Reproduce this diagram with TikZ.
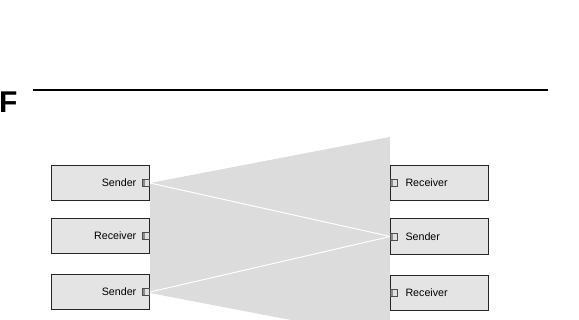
\documentclass[tikz,border=0pt]{standalone}
\usepackage{fontspec}
\setmainfont{Liberation Sans}
\definecolor{fanfill}{HTML}{DCDCDC}
\definecolor{boxfill}{HTML}{E4E4E4}
\begin{document}
\begin{tikzpicture}[x=1pt,y=-1pt,
  unitbox/.style={draw=black!85, line width=0.9pt, fill=boxfill,
    minimum width=98pt, minimum height=35.5pt, inner sep=0pt},
  portbox/.style={draw=black!70, line width=0.7pt, fill=black!12,
    minimum width=7pt, minimum height=7pt, inner sep=0pt,
    path picture={\fill[black!45] (path picture bounding box.south west)
      rectangle ([xshift=2pt]path picture bounding box.north west);}},
  lbl/.style={inner sep=0pt, font=\fontsize{10.7}{12}\selectfont},
  link/.style={draw=white, line width=1pt}]
\clip (0,0) rectangle (579,320);

% heading letter and rule
\node[inner sep=0pt, anchor=base west, font=\fontsize{30}{30}\selectfont\bfseries] (head) at (-1,113) {F};
\coordinate (ruleA) at (33,90);
\coordinate (ruleB) at (548,90);
\draw[line width=1.6pt] (ruleA) -- (ruleB);

% fan-shaped broadcast region behind the boxes
\coordinate (fanA) at (150,183);
\coordinate (fanB) at (390,137);
\coordinate (fanC) at (390,339);
\coordinate (fanD) at (150,293);
\fill[fanfill] (fanA) -- (fanB) -- (fanC) -- (fanD) -- cycle;

% unit boxes
\node[unitbox] (l1) at (100.5,183) {};
\node[unitbox] (l2) at (100.5,236) {};
\node[unitbox] (l3) at (100.5,292) {};
\node[unitbox] (r1) at (439.7,183) {};
\node[unitbox] (r2) at (439.7,236.5) {};
\node[unitbox] (r3) at (439.7,293) {};

% links from senders to the central sender
\draw[link] (l1.east) -- (r2.west);
\draw[link] (l3.east) -- (r2.west);

% ports
\node[portbox, anchor=east] (l1p) at (l1.east) {};
\node[portbox, anchor=east] (l2p) at (l2.east) {};
\node[portbox, anchor=east] (l3p) at (l3.east) {};
\node[portbox, anchor=west] (r1p) at (r1.west) {};
\node[portbox, anchor=west] (r2p) at (r2.west) {};
\node[portbox, anchor=west] (r3p) at (r3.west) {};

% labels
\node[lbl, anchor=base east] (l1t) at (136.5,186.8) {Sender};
\node[lbl, anchor=base east] (l2t) at (136.5,239.8) {Receiver};
\node[lbl, anchor=base east] (l3t) at (136.5,295.8) {Sender};
\node[lbl, anchor=base west] (r1t) at (405.3,186.8) {Receiver};
\node[lbl, anchor=base west] (r2t) at (405.3,240.3) {Sender};
\node[lbl, anchor=base west] (r3t) at (405.3,296.8) {Receiver};
\end{tikzpicture}
\end{document}
